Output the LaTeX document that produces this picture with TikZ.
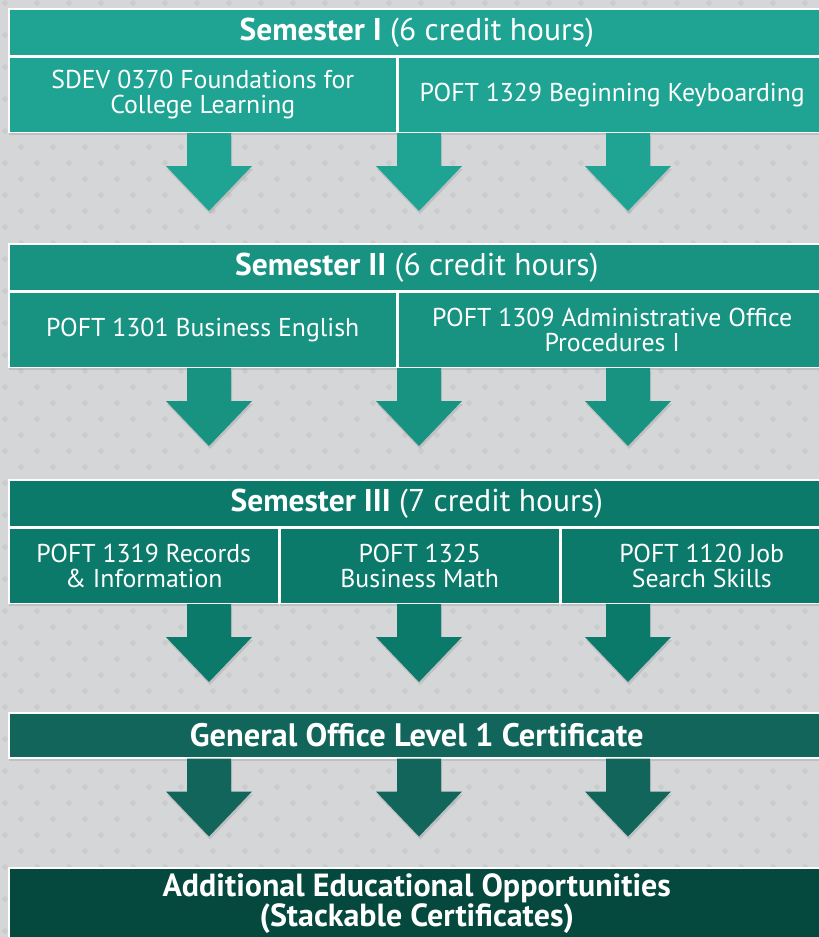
\documentclass[tikz,border=0pt]{standalone}
\usepackage{fontspec}
\setmainfont{PT Sans}
\usetikzlibrary{shadows}

\definecolor{bggray}{HTML}{D5D6D8}
\definecolor{dotgray}{HTML}{CACBCD}
\definecolor{semone}{HTML}{1FA393}
\definecolor{semtwo}{HTML}{189281}
\definecolor{semthree}{HTML}{0B7A6A}
\definecolor{certgreen}{HTML}{12655A}
\definecolor{moregreen}{HTML}{05483D}

% block arrow hanging below a box: colour, x, anchor it starts from
\newcommand\flowarrow[3]{%
  \fill[#1, flow] (#2,0 |- #3) ++(-22,0) -- ++(44,0) -- ++(0,33) -- ++(21,0)
    -- ++(-43,45) -- ++(-43,-45) -- ++(21,0) -- cycle;}

\begin{document}
\begin{tikzpicture}[
    x=1pt, y=-1pt,
    box/.style={
        draw=white,
        line width=1.5pt,
        text=white,
        inner sep=0pt,
        anchor=north west,
        align=center,
        drop shadow={shadow xshift=0pt, shadow yshift=-3pt, opacity=0.25}
    },
    head/.style={
        box,
        minimum height=47pt,
        font=\fontsize{31.5}{32}\selectfont
    },
    course/.style={
        box,
        minimum height=75pt,
        font=\fontsize{25.8}{25}\selectfont
    },
    flow/.style={
        drop shadow={shadow xshift=1pt, shadow yshift=-3pt, opacity=0.25}
    }
]

\path[use as bounding box, clip] (0,0) rectangle (819,937);
\fill[bggray] (0,0) rectangle (819,937);
\foreach \row in {0,...,58}
  \foreach \col in {0,...,26}
    \fill[dotgray] ({\col*32 + mod(\row,2)*16 + 5}, {\row*16 + 3}) circle (2.8pt);

% Semester I
\node[head, fill=semone, minimum width=816pt] (s1) at (8,8)
    {\textbf{Semester I} (6 credit hours)};
\node[course, fill=semone, minimum width=388pt] (s1a) at (s1.south west)
    {SDEV 0370 Foundations for\\College Learning};
\node[course, fill=semone, minimum width=428pt] (s1b) at (s1a.north east)
    {POFT 1329 Beginning Keyboarding};

% Semester II
\node[head, fill=semtwo, minimum width=816pt] (s2) at (8,243)
    {\textbf{Semester II} (6 credit hours)};
\node[course, fill=semtwo, minimum width=388pt] (s2a) at (s2.south west)
    {POFT 1301 Business English};
\node[course, fill=semtwo, minimum width=428pt] (s2b) at (s2a.north east)
    {POFT 1309 Administrative Office\\Procedures I};

% Semester III
\node[head, fill=semthree, minimum width=816pt] (s3) at (8,479)
    {\textbf{Semester III} (7 credit hours)};
\node[course, fill=semthree, minimum width=270pt] (s3a) at (s3.south west)
    {POFT 1319 Records\\\& Information};
\node[course, fill=semthree, minimum width=279pt] (s3b) at (s3a.north east)
    {POFT 1325\\Business Math};
\node[course, fill=semthree, minimum width=282pt] (s3c) at (s3b.north east)
    {POFT 1120 Job\\Search Skills};

% Certificate
\node[head, fill=certgreen, minimum width=816pt, minimum height=45pt,
    font=\fontsize{32.5}{32}\selectfont\bfseries]
    (cert) at (8,712) {General Office Level 1 Certificate};

% Further study
\node[box, fill=moregreen, minimum width=816pt, minimum height=72pt,
    font=\fontsize{32}{26}\selectfont\bfseries] (more) at (8,867)
    {Additional Educational Opportunities\\(Stackable Certificates)};

% Arrows
\foreach \ax in {209,419,628} {
  \flowarrow{semone}{\ax}{s1a.south}
  \flowarrow{semtwo}{\ax}{s2a.south}
  \flowarrow{semthree}{\ax}{s3a.south}
  \flowarrow{certgreen}{\ax}{cert.south}
}

\end{tikzpicture}
\end{document}
